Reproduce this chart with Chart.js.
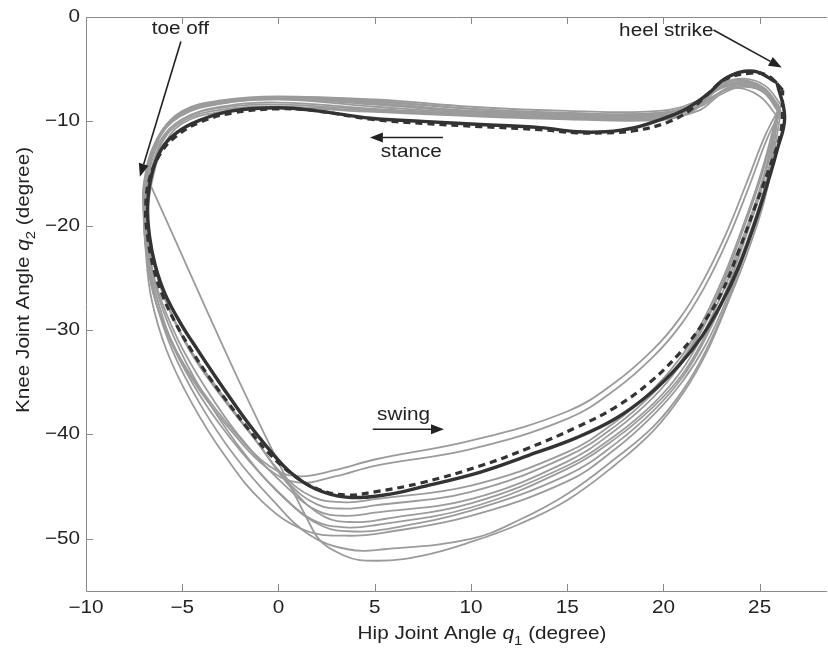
<!DOCTYPE html>
<html>
<head>
<meta charset="utf-8">
<script src="https://cdn.jsdelivr.net/npm/chart.js@4.4.0/dist/chart.umd.min.js"></script>
<style>
  html, body { margin: 0; padding: 0; background: #fff; }
  #wrap { width: 828px; height: 651px; }
</style>
</head>
<body>
<div id="wrap"><canvas id="chart" width="828" height="651"></canvas></div>
<script>
// --- Data: [hip q1, knee q2] in degrees ---
const meanCycle = [
  [25.9, -6.3], [24.7, -5.2], [23.3, -5.8], [22.3, -7.4], [21.2, -8.8], [20.2, -9.6],
  [18.5, -10.6], [17.0, -11.0], [15.5, -11.0], [13.6, -10.6], [10.5, -10.3], [7.5, -10.0],
  [4.8, -9.7], [2.0, -9.0], [0.0, -8.7], [-2.4, -9.0], [-4.1, -9.9], [-5.3, -11.1],
  [-6.1, -12.7], [-6.6, -15.2], [-6.8, -18.1], [-6.7, -21.0], [-6.4, -23.8], [-5.9, -26.5],
  [-5.1, -29.3], [-4.2, -31.9], [-3.3, -34.4], [-2.4, -36.8], [-1.5, -39.1], [-0.5, -41.4],
  [0.6, -43.6], [1.9, -45.2], [3.5, -46.0], [5.5, -45.8], [7.5, -45.0], [10.5, -43.6],
  [13.0, -42.0], [15.5, -40.3], [17.5, -38.5], [19.3, -36.1], [20.8, -33.4], [22.0, -30.6],
  [23.0, -27.5], [23.9, -24.0], [24.7, -20.0], [25.4, -16.0], [25.9, -12.8], [26.3, -9.6],
  [25.9, -6.3]
];

const modelCycle = [
  [26.2, -7.0], [25.4, -5.6], [24.4, -5.4], [23.2, -6.0], [22.4, -7.2], [21.4, -8.9],
  [20.2, -10.1], [18.5, -10.9], [17.0, -11.1], [15.5, -11.1], [13.6, -10.8], [10.5, -10.5],
  [7.5, -10.2], [4.8, -9.8], [2.0, -9.0], [0.0, -8.8], [-2.4, -9.2], [-4.1, -10.1],
  [-5.3, -11.4], [-6.1, -13.0], [-6.7, -15.5], [-6.9, -18.3], [-6.8, -21.0], [-6.5, -24.0],
  [-6.0, -26.8], [-5.3, -29.5], [-4.5, -32.0], [-3.6, -34.5], [-2.6, -37.0], [-1.6, -39.4],
  [-0.5, -41.8], [0.7, -43.8], [2.0, -45.2], [3.5, -45.8], [5.0, -45.5], [7.5, -44.6],
  [10.5, -43.0], [13.0, -41.3], [15.5, -39.3], [17.5, -37.4], [19.3, -35.0], [20.8, -32.3],
  [22.0, -29.5], [23.0, -26.5], [23.9, -22.5], [24.7, -18.5], [25.5, -14.5], [26.1, -11.0],
  [26.2, -7.0]
];

const trial01 = [[26.0,-8.8],[25.3,-6.9],[24.2,-6.1],[23.0,-6.5],[21.8,-8.2],[20.0,-9.2],[15.0,-9.3],[10.0,-9.0],[5.0,-8.2],[0.0,-7.7],[-3.0,-8.1],[-5.0,-9.2],[-6.2,-11.5],[-6.8,-15.0],[-6.9,-18.0],[-6.8,-21.5],[-6.3,-26.0],[-5.2,-31.0],[-3.8,-35.5],[-2.1,-40.0],[-0.5,-43.0],[1.0,-44.0],[3.0,-43.4],[5.0,-42.4],[10.0,-40.6],[15.0,-37.8],[17.5,-35.0],[19.5,-31.8],[20.8,-29.0],[22.0,-25.5],[23.2,-21.0],[24.3,-16.0],[25.3,-11.3],[26.0,-8.8]];
const trial02 = [[26.1,-9.0],[25.4,-7.2],[24.4,-6.4],[23.2,-6.9],[22.0,-8.5],[20.0,-9.4],[15.0,-9.5],[10.0,-9.2],[5.0,-8.6],[0.0,-7.9],[-3.0,-8.3],[-5.1,-9.5],[-6.3,-11.9],[-6.9,-15.3],[-7.0,-18.3],[-6.9,-21.8],[-6.5,-26.5],[-5.6,-31.0],[-4.2,-35.5],[-2.3,-40.0],[-0.6,-43.2],[1.0,-44.6],[3.0,-44.0],[5.0,-43.0],[10.0,-41.4],[15.0,-38.5],[17.5,-35.7],[19.5,-32.5],[20.9,-29.5],[22.1,-26.0],[23.3,-21.5],[24.4,-16.5],[25.4,-11.6],[26.1,-9.0]];
const trial03 = [[26.0,-8.6],[25.2,-6.8],[24.0,-6.0],[22.8,-6.6],[21.6,-8.4],[19.5,-9.3],[15.0,-9.2],[10.0,-8.8],[5.0,-8.0],[0.0,-7.6],[-3.0,-8.0],[-5.0,-9.0],[-6.1,-11.2],[-6.7,-14.8],[-6.9,-18.0],[-6.7,-21.5],[-6.1,-26.0],[-4.9,-31.0],[-3.3,-35.5],[-1.4,-40.0],[0.2,-43.8],[1.8,-46.0],[3.5,-46.5],[5.0,-46.2],[10.0,-44.9],[15.0,-41.7],[17.5,-38.8],[19.5,-35.6],[20.9,-32.6],[22.0,-29.3],[23.1,-25.0],[24.1,-20.2],[25.1,-14.8],[26.0,-8.6]];
const trial04 = [[26.0,-9.2],[25.1,-7.0],[23.8,-6.3],[22.6,-7.0],[21.4,-8.9],[19.5,-9.6],[15.0,-9.6],[10.0,-9.3],[5.0,-8.8],[0.0,-8.2],[-3.0,-8.6],[-5.0,-9.8],[-6.2,-12.0],[-6.8,-15.5],[-6.9,-18.5],[-6.7,-22.0],[-6.0,-26.5],[-4.7,-31.5],[-3.0,-36.0],[-1.2,-40.5],[0.5,-44.6],[2.0,-46.7],[3.5,-47.1],[5.0,-46.8],[10.0,-45.5],[15.0,-42.1],[17.5,-39.2],[19.5,-36.0],[20.9,-33.0],[22.0,-29.7],[23.1,-25.4],[24.1,-20.6],[25.1,-15.2],[26.0,-9.2]];
const trial05 = [[26.1,-8.4],[25.3,-6.6],[24.2,-5.9],[23.0,-6.4],[21.8,-8.0],[19.8,-9.0],[15.0,-9.0],[10.0,-8.6],[5.0,-7.9],[0.0,-7.7],[-3.0,-8.2],[-5.2,-9.4],[-6.4,-12.0],[-7.0,-16.0],[-7.0,-19.0],[-6.8,-22.5],[-6.3,-27.0],[-5.3,-32.0],[-3.7,-36.5],[-1.7,-41.0],[0.4,-45.0],[2.0,-47.3],[3.5,-47.8],[5.0,-47.5],[10.0,-46.2],[15.0,-42.6],[17.5,-39.6],[19.5,-36.4],[20.9,-33.3],[22.0,-30.0],[23.1,-25.7],[24.2,-20.8],[25.2,-15.3],[26.1,-8.4]];
const trial06 = [[25.9,-9.5],[25.0,-7.6],[23.8,-6.8],[22.6,-7.6],[21.3,-9.2],[19.5,-9.8],[15.0,-9.7],[10.0,-9.4],[5.0,-9.0],[0.0,-8.6],[-3.0,-8.9],[-5.0,-10.0],[-6.1,-12.2],[-6.7,-15.8],[-6.8,-18.8],[-6.6,-22.5],[-5.9,-27.0],[-4.6,-32.0],[-2.9,-36.5],[-1.0,-41.0],[0.7,-45.2],[2.4,-47.9],[4.0,-48.4],[5.5,-48.1],[10.0,-46.6],[15.0,-43.0],[17.5,-40.1],[19.5,-37.0],[20.9,-34.0],[22.0,-30.6],[23.1,-26.3],[24.2,-21.2],[25.2,-15.6],[25.9,-9.5]];
const trial07 = [[26.0,-8.9],[25.2,-7.0],[24.0,-6.4],[22.8,-7.0],[21.6,-8.7],[19.6,-9.5],[15.0,-9.4],[10.0,-9.1],[5.0,-8.4],[0.0,-7.9],[-3.0,-8.3],[-5.0,-9.3],[-6.2,-11.6],[-6.8,-15.2],[-7.0,-18.2],[-6.9,-22.0],[-6.5,-26.5],[-5.5,-31.5],[-4.0,-36.5],[-2.0,-41.5],[0.0,-45.5],[1.8,-48.2],[3.5,-48.9],[5.0,-48.7],[10.0,-47.0],[15.0,-43.3],[17.5,-40.4],[19.5,-37.3],[21.0,-34.2],[22.1,-30.8],[23.2,-26.5],[24.2,-21.5],[25.2,-15.8],[26.0,-8.9]];
const trial08 = [[26.0,-9.0],[25.1,-7.1],[23.9,-6.6],[22.6,-7.6],[21.2,-9.3],[19.5,-9.9],[15.0,-9.8],[10.0,-9.5],[5.0,-9.1],[0.0,-8.7],[-3.0,-9.1],[-5.0,-10.2],[-6.0,-12.5],[-6.6,-16.0],[-6.8,-19.0],[-6.7,-22.5],[-6.2,-27.0],[-5.1,-32.0],[-3.6,-37.0],[-1.7,-42.0],[0.4,-46.3],[2.3,-48.8],[4.0,-49.3],[5.5,-49.1],[10.0,-47.3],[15.0,-43.9],[17.5,-40.9],[19.5,-37.7],[21.0,-34.5],[22.1,-31.1],[23.2,-26.8],[24.3,-21.7],[25.3,-16.0],[26.0,-9.0]];
const trial09 = [[26.0,-8.7],[25.2,-6.9],[24.1,-6.3],[22.9,-6.9],[21.7,-8.6],[19.7,-9.4],[15.0,-9.3],[10.0,-9.0],[5.0,-8.3],[0.0,-7.8],[-3.0,-8.2],[-5.1,-9.3],[-6.3,-11.7],[-6.9,-15.4],[-7.0,-18.4],[-6.9,-22.3],[-6.6,-27.0],[-5.8,-32.0],[-4.5,-37.0],[-2.8,-42.0],[-0.8,-46.5],[1.4,-49.2],[3.5,-49.7],[5.5,-49.4],[10.0,-47.8],[15.0,-44.5],[17.5,-41.4],[19.5,-38.1],[21.0,-34.9],[22.2,-31.4],[23.3,-27.0],[24.3,-22.0],[25.3,-16.2],[26.0,-8.7]];
const trial10 = [[26.1,-9.1],[25.3,-7.3],[24.2,-6.7],[23.0,-7.4],[21.8,-9.0],[19.8,-9.7],[15.0,-9.6],[10.0,-9.3],[5.0,-8.9],[0.0,-8.4],[-3.0,-8.7],[-5.0,-9.8],[-6.1,-12.0],[-6.7,-15.6],[-6.9,-18.7],[-6.8,-22.3],[-6.4,-27.0],[-5.5,-32.0],[-4.1,-37.0],[-2.3,-42.0],[-0.3,-46.3],[1.6,-49.6],[3.6,-51.0],[5.5,-51.0],[10.0,-50.0],[12.5,-48.2],[15.0,-45.7],[17.5,-42.3],[19.5,-39.2],[21.0,-35.8],[22.2,-32.0],[23.3,-27.4],[24.3,-22.3],[25.4,-16.3],[26.1,-9.1]];
const trial11 = [[26.0,-8.5],[25.2,-6.8],[24.1,-6.2],[22.9,-6.8],[21.7,-8.3],[19.7,-9.2],[15.0,-9.2],[10.0,-8.8],[5.0,-8.1],[0.0,-7.7],[-3.0,-8.1],[-5.0,-9.1],[-6.2,-11.4],[-6.7,-14.5],[-6.6,-16.3],[1.8,-49.2],[3.4,-51.6],[5.2,-52.1],[7.5,-51.6],[10.0,-50.3],[12.5,-48.6],[15.0,-46.3],[17.5,-42.9],[19.5,-39.6],[21.0,-36.1],[22.2,-32.3],[23.3,-27.6],[24.4,-22.4],[25.4,-16.4],[26.0,-8.5]];
const trials = [trial01, trial02, trial03, trial04, trial05, trial06, trial07, trial08, trial09, trial10, trial11];

const xTickStep = 5;
const yTickStep = 10;

// annotation labels and arrows (data coordinates)
const noteTexts = ['toe off', 'heel strike', 'stance', 'swing'];
const noteTextAt = [[-5.1, -1.2], [20.15, -1.3], [6.9, -12.9], [6.5, -38.1]];
const noteArrowFrom = [[-5.07, -2.35], [22.6, -1.25], [8.55, -11.55], [4.9, -39.5]];
const noteArrowTo = [[-7.2, -15.3], [26.15, -4.85], [4.75, -11.55], [8.6, -39.5]];

// --- Helpers ---
const FONT = '"Liberation Sans", Arial, sans-serif';
const STRETCH = 1.15; // reference glyphs are wider than Liberation Sans
const toPts = arr => arr.map(p => ({ x: p[0], y: p[1] }));
const fmt = v => (v < 0 ? '\u2212' + Math.abs(v) : String(v));

const datasets = [
    { data: toPts(modelCycle), borderColor: '#333', borderWidth: 3.2, borderDash: [7, 5], order: 0 },
    { data: toPts(meanCycle), borderColor: '#333', borderWidth: 3.4, order: 1 }
];
trials.forEach(t => {
    datasets.push({ data: toPts(t), borderColor: '#9b9b9b', borderWidth: 1.8, order: 2 });
});

// draw a (possibly mixed-style) string, horizontally stretched, centred/right-aligned at (x, y)
function drawText(ctx, parts, x, y, align, rotate) {
    ctx.save();
    ctx.translate(x, y);
    if (rotate) ctx.rotate(-Math.PI / 2);
    ctx.scale(STRETCH, 1);
    ctx.fillStyle = '#222';
    ctx.textBaseline = 'middle';
    ctx.textAlign = 'left';
    let total = 0;
    parts.forEach(p => { ctx.font = p.font; total += ctx.measureText(p.s).width; });
    let cx = align === 'right' ? -total : -total / 2;
    parts.forEach(p => {
        ctx.font = p.font;
        ctx.fillText(p.s, cx, p.dy || 0);
        cx += ctx.measureText(p.s).width;
    });
    ctx.restore();
}

// --- Frame, inward ticks, labels, axis titles and annotations ---
const decorPlugin = {
    id: 'decor',
    afterDraw(chart) {
        const ctx = chart.ctx;
        const a = chart.chartArea;
        const xs = chart.scales.x, ys = chart.scales.y;
        const reg = '18px ' + FONT, ital = 'italic 18px ' + FONT, sub = '13px ' + FONT;
        ctx.save();

        // frame (left, bottom, top)
        ctx.strokeStyle = '#8a8a8a';
        ctx.lineWidth = 1;
        ctx.beginPath();
        ctx.moveTo(a.left + 0.5, a.top + 0.5);
        ctx.lineTo(a.left + 0.5, a.bottom + 0.5);
        ctx.lineTo(a.right, a.bottom + 0.5);
        ctx.moveTo(a.left + 0.5, a.top + 0.5);
        ctx.lineTo(a.right, a.top + 0.5);
        ctx.stroke();

        // inward ticks + labels
        ctx.beginPath();
        xs.ticks.forEach(t => {
            const px = Math.round(xs.getPixelForValue(t.value)) + 0.5;
            ctx.moveTo(px, a.bottom);
            ctx.lineTo(px, a.bottom - 7);
            ctx.moveTo(px, a.top);
            ctx.lineTo(px, a.top + 7);
        });
        ys.ticks.forEach(t => {
            const py = Math.round(ys.getPixelForValue(t.value)) + 0.5;
            ctx.moveTo(a.left, py);
            ctx.lineTo(a.left + 7, py);
        });
        ctx.stroke();
        xs.ticks.forEach(t => {
            drawText(ctx, [{ s: fmt(t.value), font: reg }], xs.getPixelForValue(t.value), a.bottom + 17, 'center');
        });
        ys.ticks.forEach(t => {
            drawText(ctx, [{ s: fmt(t.value), font: reg }], a.left - 6, ys.getPixelForValue(t.value), 'right');
        });

        // axis titles with italic symbol and subscript
        drawText(ctx, [
            { s: 'Hip Joint Angle ', font: reg },
            { s: 'q', font: ital },
            { s: '1', font: sub, dy: 7 },
            { s: ' (degree)', font: reg }
        ], 482, 634, 'center');
        drawText(ctx, [
            { s: 'Knee Joint Angle ', font: reg },
            { s: 'q', font: ital },
            { s: '2', font: sub, dy: 7 },
            { s: ' (degree)', font: reg }
        ], 24, 280, 'center', true);

        // annotations
        ctx.fillStyle = '#222';
        ctx.strokeStyle = '#222';
        noteTexts.forEach((txt, i) => {
            drawText(ctx, [{ s: txt, font: reg }], xs.getPixelForValue(noteTextAt[i][0]), ys.getPixelForValue(noteTextAt[i][1]), 'center');
            const x0 = xs.getPixelForValue(noteArrowFrom[i][0]), y0 = ys.getPixelForValue(noteArrowFrom[i][1]);
            const x1 = xs.getPixelForValue(noteArrowTo[i][0]), y1 = ys.getPixelForValue(noteArrowTo[i][1]);
            const ang = Math.atan2(y1 - y0, x1 - x0);
            const hl = 13, hw = 5;
            ctx.lineWidth = 1.6;
            ctx.beginPath();
            ctx.moveTo(x0, y0);
            ctx.lineTo(x1 - hl * Math.cos(ang), y1 - hl * Math.sin(ang));
            ctx.stroke();
            ctx.beginPath();
            ctx.moveTo(x1, y1);
            ctx.lineTo(x1 - hl * Math.cos(ang) + hw * Math.sin(ang), y1 - hl * Math.sin(ang) - hw * Math.cos(ang));
            ctx.lineTo(x1 - hl * Math.cos(ang) - hw * Math.sin(ang), y1 - hl * Math.sin(ang) + hw * Math.cos(ang));
            ctx.closePath();
            ctx.fill();
        });
        ctx.restore();
    }
};

new Chart(document.getElementById('chart'), {
    type: 'scatter',
    data: { datasets: datasets },
    options: {
        responsive: false,
        animation: false,
        devicePixelRatio: 1,
        layout: { padding: { top: 17, right: 1, left: 0, bottom: 0 } },
        datasets: { scatter: { showLine: true, tension: 0.4, pointRadius: 0, fill: false } },
        plugins: { legend: { display: false }, tooltip: { enabled: false } },
        scales: {
            x: {
                type: 'linear', min: -10, max: 28.5,
                grid: { display: false, drawTicks: false },
                border: { display: false },
                ticks: { display: false, stepSize: xTickStep, includeBounds: false },
                afterFit: s => { s.height = 60; }
            },
            y: {
                type: 'linear', min: -55, max: 0,
                grid: { display: false, drawTicks: false },
                border: { display: false },
                ticks: { display: false, stepSize: yTickStep, includeBounds: false },
                afterFit: s => { s.width = 86; }
            }
        }
    },
    plugins: [decorPlugin]
});
</script>
</body>
</html>
